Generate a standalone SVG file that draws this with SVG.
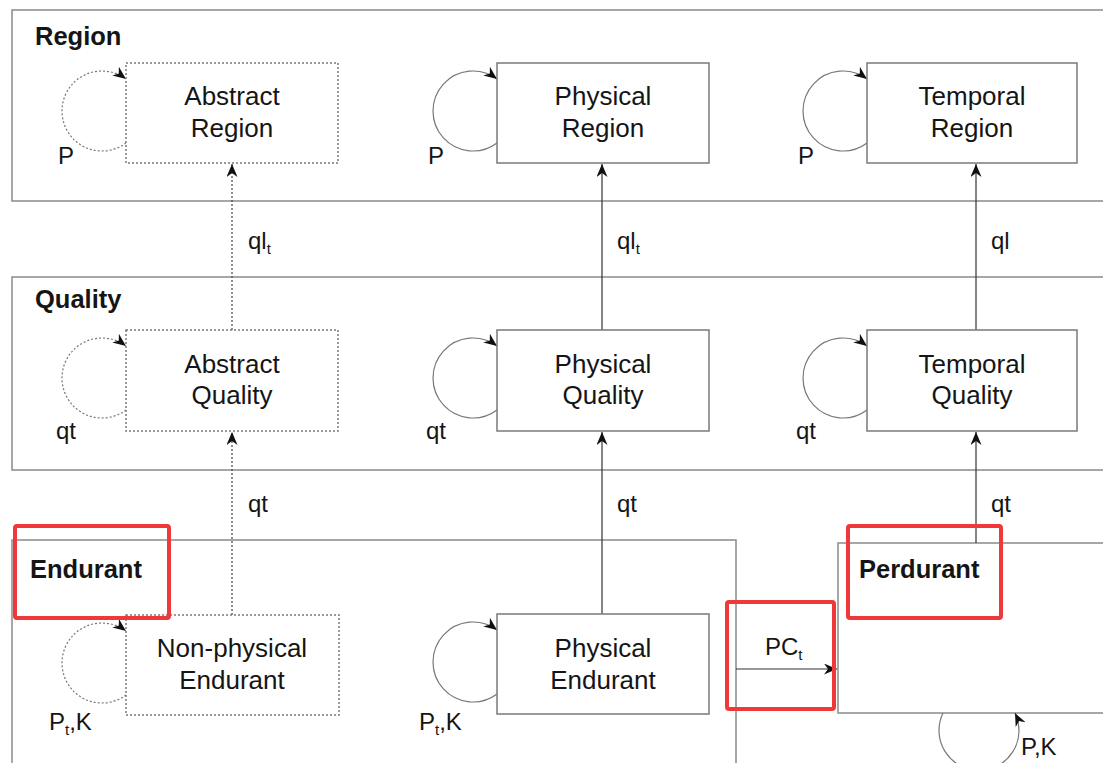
<svg xmlns="http://www.w3.org/2000/svg" width="1103" height="763" viewBox="0 0 1103 763">
<style>
text{font-family:"Liberation Sans",Arial,sans-serif;fill:#151515}
.cont{fill:none;stroke:#8a8a8a;stroke-width:1.5}
.box{fill:#fff;stroke:#7a7a7a;stroke-width:1.5}
.dbox{fill:#fff;stroke:#7a7a7a;stroke-width:1.5;stroke-dasharray:2 2}
.nt{font-size:26px;text-anchor:middle}
.ct{font-size:25.5px;font-weight:bold}
.lb{font-size:24px}
.sub{font-size:15px}
.con{fill:none;stroke:#333;stroke-width:1.2}
.dcon{fill:none;stroke:#444;stroke-width:1.2;stroke-dasharray:2 2}
.loop{fill:none;stroke:#777;stroke-width:1.2}
.dloop{fill:none;stroke:#777;stroke-width:1.2;stroke-dasharray:2 2}
.hl{fill:none;stroke:#f03838;stroke-width:4}
</style>
<defs>
<marker id="ah" markerWidth="16" markerHeight="12" refX="13" refY="5.5" orient="auto" markerUnits="userSpaceOnUse">
<path d="M0,0 L13,5.5 L0,11 L4,5.5 Z" fill="#111"/>
</marker>
</defs>
<g id="containers">
<rect id="region-container" class="cont" x="12" y="10" width="1100" height="191"/>
<rect id="quality-container" class="cont" x="12" y="277" width="1100" height="193"/>
<rect id="endurant-container" class="cont" x="12" y="540" width="724" height="240"/>
<rect id="perdurant-container" class="cont" x="838" y="543" width="280" height="170"/>
<text class="ct" x="35" y="45">Region</text>
<text class="ct" x="35" y="308">Quality</text>
<text class="ct" x="30" y="578">Endurant</text>
<text class="ct" x="859" y="578">Perdurant</text>
</g>
<g id="connectors">
<line class="dcon" x1="232" y1="330" x2="232" y2="164" marker-end="url(#ah)"/>
<line class="con" x1="602" y1="330" x2="602" y2="164" marker-end="url(#ah)"/>
<line class="con" x1="976" y1="330" x2="976" y2="164" marker-end="url(#ah)"/>
<line class="dcon" x1="232" y1="615" x2="232" y2="432" marker-end="url(#ah)"/>
<line class="con" x1="602" y1="614" x2="602" y2="432" marker-end="url(#ah)"/>
<line class="con" x1="976" y1="543" x2="976" y2="432" marker-end="url(#ah)"/>
<line class="con" x1="736" y1="669" x2="837" y2="669" marker-end="url(#ah)"/>
<text class="lb" x="248" y="249">ql<tspan class="sub" dy="5">t</tspan></text>
<text class="lb" x="617" y="249">ql<tspan class="sub" dy="5">t</tspan></text>
<text class="lb" x="991" y="249">ql</text>
<text class="lb" x="248" y="512">qt</text>
<text class="lb" x="617" y="512">qt</text>
<text class="lb" x="991" y="512">qt</text>
<text class="lb" x="765" y="655">PC<tspan class="sub" dy="5">t</tspan></text>
<path class="dloop" d="M126,143 A40,40 0 1 1 126,79" marker-end="url(#ah)"/>
<path class="loop" d="M497,143 A40,40 0 1 1 497,79" marker-end="url(#ah)"/>
<path class="loop" d="M867,143 A40,40 0 1 1 867,79" marker-end="url(#ah)"/>
<path class="dloop" d="M126,410 A40,40 0 1 1 126,346" marker-end="url(#ah)"/>
<path class="loop" d="M497,410 A40,40 0 1 1 497,346" marker-end="url(#ah)"/>
<path class="loop" d="M867,410 A40,40 0 1 1 867,346" marker-end="url(#ah)"/>
<path class="dloop" d="M126,695 A40,40 0 1 1 126,631" marker-end="url(#ah)"/>
<path class="loop" d="M497,694 A40,40 0 1 1 497,630" marker-end="url(#ah)"/>
<path class="loop" d="M943,713 A40,40 0 1 0 1015,713" marker-end="url(#ah)"/>
<text class="lb" x="58" y="164">P</text>
<text class="lb" x="428" y="164">P</text>
<text class="lb" x="798" y="164">P</text>
<text class="lb" x="56" y="439">qt</text>
<text class="lb" x="426" y="439">qt</text>
<text class="lb" x="796" y="439">qt</text>
<text class="lb" x="49" y="730">P<tspan class="sub" dy="5">t</tspan><tspan dy="-5">,K</tspan></text>
<text class="lb" x="419" y="730">P<tspan class="sub" dy="5">t</tspan><tspan dy="-5">,K</tspan></text>
<text class="lb" x="1021" y="755">P,K</text>
</g>
<g id="abstract-region"><rect class="dbox" x="126" y="63" width="212" height="100"/><text class="nt" x="232" y="105">Abstract</text><text class="nt" x="232" y="137">Region</text></g>
<g id="physical-region"><rect class="box" x="497" y="63" width="212" height="100"/><text class="nt" x="603" y="105">Physical</text><text class="nt" x="603" y="137">Region</text></g>
<g id="temporal-region"><rect class="box" x="867" y="63" width="210" height="100"/><text class="nt" x="972" y="105">Temporal</text><text class="nt" x="972" y="137">Region</text></g>
<g id="abstract-quality"><rect class="dbox" x="126" y="330" width="212" height="101"/><text class="nt" x="232" y="373">Abstract</text><text class="nt" x="232" y="404">Quality</text></g>
<g id="physical-quality"><rect class="box" x="497" y="330" width="212" height="101"/><text class="nt" x="603" y="373">Physical</text><text class="nt" x="603" y="404">Quality</text></g>
<g id="temporal-quality"><rect class="box" x="867" y="330" width="210" height="101"/><text class="nt" x="972" y="373">Temporal</text><text class="nt" x="972" y="404">Quality</text></g>
<g id="non-physical-endurant"><rect class="dbox" x="126" y="615" width="213" height="100"/><text class="nt" x="232" y="657">Non-physical</text><text class="nt" x="232" y="689">Endurant</text></g>
<g id="physical-endurant"><rect class="box" x="497" y="614" width="212" height="100"/><text class="nt" x="603" y="657">Physical</text><text class="nt" x="603" y="689">Endurant</text></g>
<g id="highlights">
<rect class="hl" x="15" y="526" width="154" height="92" rx="2"/>
<rect class="hl" x="848" y="526" width="153" height="92" rx="2"/>
<rect class="hl" x="727" y="602" width="107" height="107" rx="2"/>
</g>
</svg>
